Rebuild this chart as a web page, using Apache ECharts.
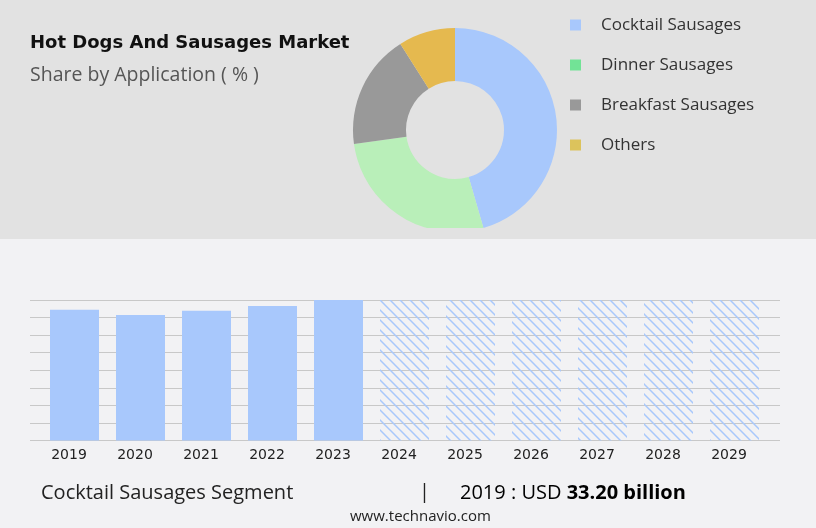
<!DOCTYPE html>
<html>
<head>
<meta charset="utf-8">
<script src="https://cdn.jsdelivr.net/npm/echarts@6/dist/echarts.min.js"></script>
<style>
  html, body { margin: 0; padding: 0; background: #f2f2f4; }
  #main { width: 816px; height: 528px; }
</style>
</head>
<body>
<div id="main"></div>
<script>
// donut: share by application (%)
var segNames = ['Cocktail Sausages', 'Dinner Sausages', 'Breakfast Sausages', 'Others'];
var segShare = [45.5, 27.3, 18.2, 9.0];
var pieColors = ['#a8c8fc', '#b9efb9', '#999999', '#e5b94f'];
var legendColors = ['#a8c8fc', '#72e396', '#999999', '#dcc35c'];

// bars: cocktail sausages segment, USD billion
var years = ['2019', '2020', '2021', '2022', '2023', '2024', '2025', '2026', '2027', '2028', '2029'];
var histValues = [33.2, 31.9, 32.95, 34.2, 35.7];
var forecastValues = [35.7, 35.7, 35.7, 35.7, 35.7, 35.7];
var yMax = 35.7;

var myChart = echarts.init(document.getElementById('main'));

// hatch pattern for forecast bars
function makeHatch() {
    var c = document.createElement('canvas');
    c.width = 10;
    c.height = 10;
    var ctx = c.getContext('2d');
    ctx.strokeStyle = '#a8c8fc';
    ctx.lineWidth = 1.5;
    ctx.beginPath();
    ctx.moveTo(-1, -1); ctx.lineTo(11, 11);
    ctx.moveTo(-1, 9); ctx.lineTo(1, 11);
    ctx.moveTo(9, -1); ctx.lineTo(11, 1);
    ctx.stroke();
    return c;
}
var hatch = { image: makeHatch(), repeat: 'repeat' };

var pieData = [];
for (var i = 0; i < segNames.length; i++) {
    pieData.push({ name: segNames[i], value: segShare[i], itemStyle: { color: pieColors[i] } });
}
var legendData = [];
for (var i = 0; i < segNames.length; i++) {
    legendData.push({ name: segNames[i], itemStyle: { color: legendColors[i] } });
}

var barData = [];
for (var i = 0; i < histValues.length; i++) {
    barData.push({ value: histValues[i], itemStyle: { color: '#a8c8fc' } });
}
for (var i = 0; i < forecastValues.length; i++) {
    barData.push({ value: forecastValues[i], itemStyle: { color: hatch } });
}

var option = {
    backgroundColor: '#f2f2f4',
    animation: false,
    title: [
        {
            text: 'Hot Dogs And Sausages Market',
            left: 30, top: 34, padding: 0,
            textStyle: { fontFamily: 'DejaVu Sans', fontWeight: 'bold', fontSize: 18, color: '#111' }
        },
        {
            text: 'Share by Application ( % )',
            left: 30, top: 65, padding: 0,
            textStyle: { fontFamily: 'Open Sans', fontWeight: 'normal', fontSize: 19.5, color: '#555' }
        }
    ],
    legend: {
        orient: 'vertical',
        left: 570, top: 16.5, padding: 0,
        itemWidth: 11, itemHeight: 11,
        itemGap: 23,
        icon: 'rect',
        selectedMode: false,
        data: legendData,
        textStyle: { fontFamily: 'Open Sans', fontSize: 17, color: '#333', lineHeight: 16, padding: [0, 0, 0, 15] }
    },
    graphic: [
        { type: 'rect', z: -10, shape: { x: 0, y: 0, width: 816, height: 239 }, style: { fill: '#e2e2e2' } },
        { type: 'rect', z: 100, shape: { x: 340, y: 228, width: 240, height: 11 }, style: { fill: '#e2e2e2' } },
        { type: 'text', left: 41, top: 483, style: { text: 'Cocktail Sausages Segment', font: '20px "Open Sans"', fill: '#222' } },
        { type: 'text', left: 419, top: 482, style: { text: '|', font: '20px "Open Sans"', fill: '#222' } },
        {
            type: 'text', left: 460, top: 483,
            style: {
                text: '{a|2019 : USD }{b|33.20 billion}',
                rich: {
                    a: { fontFamily: 'Open Sans', fontSize: 20, color: '#333' },
                    b: { fontFamily: 'Open Sans', fontSize: 20, fontWeight: 'bold', color: '#333' }
                }
            }
        },
        { type: 'text', left: 350, top: 509, style: { text: 'www.technavio.com', font: '15px "Open Sans"', fill: '#222' } }
    ],
    grid: [
        { left: 30, right: 36, top: 300, height: 140.5 },
        { left: 41.5, right: 48.5, top: 300, height: 140.5 }
    ],
    xAxis: [
        { gridIndex: 0, type: 'value', show: false, min: 0, max: 1 },
        {
            gridIndex: 1, type: 'category', data: years,
            axisLine: { show: false }, axisTick: { show: false },
            axisLabel: { fontFamily: 'DejaVu Sans', fontSize: 14, color: '#222', margin: 8, padding: [0, 11, 0, 0] }
        }
    ],
    yAxis: [
        {
            gridIndex: 0, type: 'value', min: 0, max: yMax, interval: yMax / 8,
            axisLabel: { show: false }, axisLine: { show: false }, axisTick: { show: false },
            splitLine: { lineStyle: { color: '#c8c8c8', width: 1 } }
        },
        { gridIndex: 1, type: 'value', min: 0, max: yMax, show: false, splitLine: { show: false } }
    ],
    series: [
        {
            type: 'pie',
            center: [455, 130],
            radius: [49, 102],
            startAngle: 90,
            label: { show: false },
            labelLine: { show: false },
            data: pieData
        },
        {
            type: 'bar',
            xAxisIndex: 1, yAxisIndex: 1,
            barWidth: 49,
            data: barData
        }
    ]
};

myChart.setOption(option);
</script>
</body>
</html>
